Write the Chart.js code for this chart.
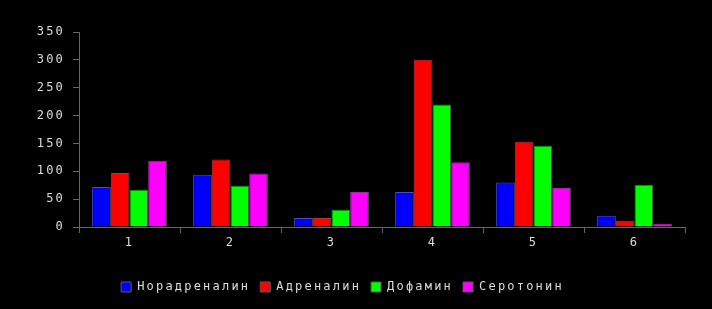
<!DOCTYPE html>
<html>
<head>
<meta charset="utf-8">
<script src="https://cdn.jsdelivr.net/npm/chart.js@4"></script>
<style>
  html, body { margin: 0; padding: 0; background: #000; }
  #wrap { width: 712px; height: 309px; }
</style>
</head>
<body>
<div id="wrap"><canvas id="chart"></canvas></div>
<script>
// data
const categories = ['1', '2', '3', '4', '5', '6'];
const seriesNames = ['Норадреналин', 'Адреналин', 'Дофамин', 'Серотонин'];
const noradrenalin = [72, 94, 16, 63, 80, 20];
const adrenalin = [97, 121, 16, 300, 153, 11];
const dopamine = [67, 74, 31, 220, 146, 76];
const serotonin = [119, 96, 63, 116, 70, 6];
const yTicks = [0, 50, 100, 150, 200, 250, 300, 350];

const colors = ['#0000ff', '#ff0000', '#00ff00', '#ff00ff'];
const values = [noradrenalin, adrenalin, dopamine, serotonin];

// the original text is widely spaced
const spacing = {
    id: 'spacing',
    beforeLayout(chart) { chart.ctx.letterSpacing = '2.2px'; },
    beforeDraw(chart) { chart.ctx.letterSpacing = '2.2px'; }
};

const textFont = { family: 'DejaVu Sans Mono', size: 12 };

new Chart(document.getElementById('chart'), {
    type: 'bar',
    data: {
        labels: categories,
        datasets: seriesNames.map((name, i) => ({
            label: name,
            data: values[i],
            backgroundColor: colors[i],
            borderColor: '#5a5a5a',
            borderWidth: 1,
            categoryPercentage: 0.74,
            barPercentage: 1.0
        }))
    },
    options: {
        responsive: true,
        maintainAspectRatio: false,
        animation: false,
        layout: { padding: { top: 32, right: 27, left: 0, bottom: 6 } },
        plugins: {
            legend: {
                position: 'bottom',
                labels: {
                    color: '#dddddd',
                    font: { family: 'DejaVu Sans Mono', size: 12 },
                    boxWidth: 10,
                    boxHeight: 10,
                    padding: 10,
                    useBorderRadius: false
                }
            },
            tooltip: { enabled: false }
        },
        scales: {
            x: {
                grid: { display: true, drawOnChartArea: false, color: '#666', tickLength: 6, offset: true },
                border: { color: '#666' },
                ticks: { color: '#dddddd', font: textFont, padding: 3 },
                afterFit(scale) { scale.height = 44; }
            },
            y: {
                min: 0,
                max: 350,
                afterBuildTicks(scale) { scale.ticks = yTicks.map(v => ({ value: v })); },
                grid: { display: true, drawOnChartArea: false, color: '#666', tickLength: 6 },
                border: { color: '#666' },
                ticks: { color: '#dddddd', font: textFont, padding: 8 },
                afterFit(scale) { scale.width = 79; }
            }
        }
    },
    plugins: [spacing]
});
</script>
</body>
</html>
